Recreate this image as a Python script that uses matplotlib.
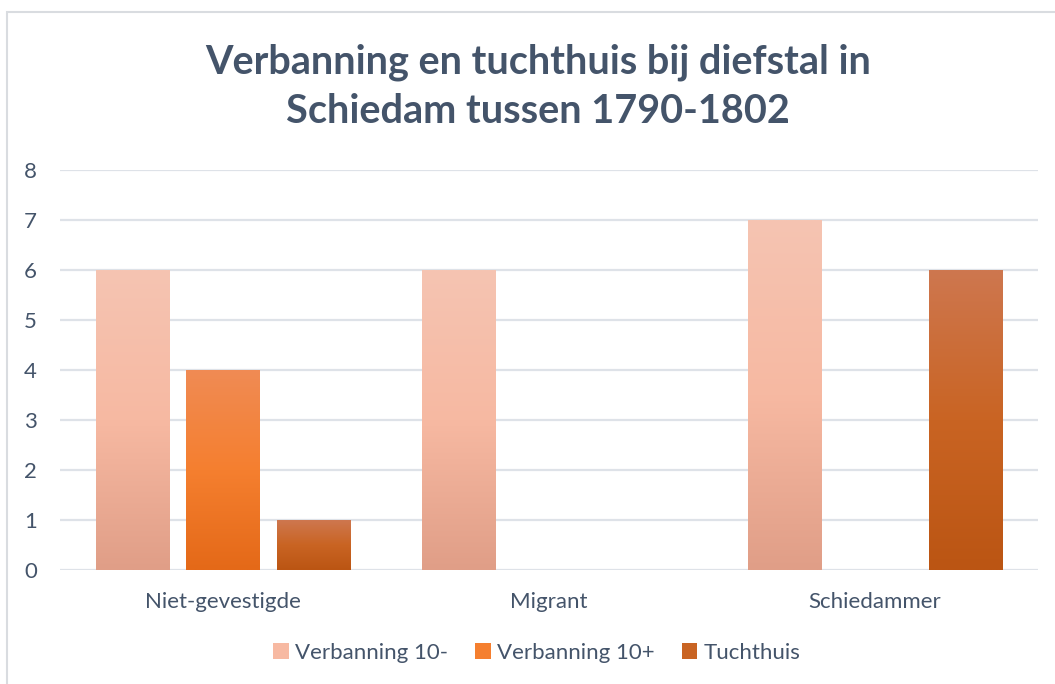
import matplotlib
matplotlib.use("Agg")
import matplotlib.pyplot as plt
import numpy as np
from matplotlib.colors import to_rgb
from matplotlib.patches import Patch, Rectangle

plt.rcParams['font.family'] = ['Lato', 'DejaVu Sans']

categorieen = ["Niet-gevestigde", "Migrant", "Schiedammer"]
series = ["Verbanning 10-", "Verbanning 10+", "Tuchthuis"]
verbanning_min = [6, 6, 7]
verbanning_plus = [4, 0, 0]
tuchthuis = [1, 0, 6]
waarden = [verbanning_min, verbanning_plus, tuchthuis]

# gradient stops per serie: boven, midden, onder
kleuren = [
    ("#F5C4B2", "#F7B9A2", "#E09E87"),
    ("#F08B54", "#F57F2F", "#E46918"),
    ("#CE774F", "#C96423", "#BB5513"),
]
tekstkleur = "#44546A"


def gradient(stops, n=200):
    boven, midden, onder = [np.array(to_rgb(c)) for c in stops]
    t = np.linspace(0, 1, n)[:, None]
    eerste = boven + (midden - boven) * np.clip(t * 2, 0, 1)
    tweede = midden + (onder - midden) * np.clip(t * 2 - 1, 0, 1)
    kleur = np.where(t < 0.5, eerste, tweede)
    return kleur[:, None, :]


fig = plt.figure(figsize=(10.55, 6.84), dpi=100)
ax = fig.add_axes([60 / 1055, 114 / 684, 978 / 1055, 400 / 684])

x = np.arange(len(categorieen))
breedte = 0.224
afstand = 0.277

for i, (naam, vals) in enumerate(zip(series, waarden)):
    pos = x + (i - 1) * afstand
    balken = ax.bar(pos, vals, width=breedte, color="none", edgecolor="none", zorder=3)
    img = gradient(kleuren[i])
    for b in balken:
        h = b.get_height()
        if h <= 0:
            continue
        x0 = b.get_x()
        ax.imshow(img, extent=[x0, x0 + b.get_width(), 0, h], aspect="auto",
                  origin="upper", zorder=3, interpolation="bilinear")

ax.set_xlim(-0.5, 2.5)
ax.set_ylim(0, 8)
ax.set_yticks(range(0, 9))
ax.set_xticks(x)
ax.set_xticklabels(categorieen)
ax.yaxis.grid(True, color="#DEE2E8", linewidth=1.6, zorder=0)
ax.set_axisbelow(True)
for s in ax.spines.values():
    s.set_visible(False)
ax.tick_params(axis="both", length=0, labelsize=16, labelcolor=tekstkleur)
ax.tick_params(axis="y", pad=16.5)
ax.tick_params(axis="x", pad=16)

fig.text(0.51, 0.873, "Verbanning en tuchthuis bij diefstal in\nSchiedam tussen 1790-1802",
         ha="center", va="center", fontsize=28.5, fontweight="bold", color=tekstkleur,
         linespacing=1.4)

handles = [Patch(facecolor=k[1], edgecolor="none") for k in kleuren]
fig.legend(handles, series, loc="center", bbox_to_anchor=(0.509, 0.046), ncol=3,
           frameon=False, fontsize=16, labelcolor=tekstkleur, handlelength=0.7,
           handleheight=0.7, handletextpad=0.3, columnspacing=1.2)

fig.patches.append(Rectangle((7, -10), 1100, 684 - 12 + 10, transform=None,
                             fill=False, edgecolor="#D9DCE0", linewidth=1.5))

fig.savefig("out.png", dpi=100)
